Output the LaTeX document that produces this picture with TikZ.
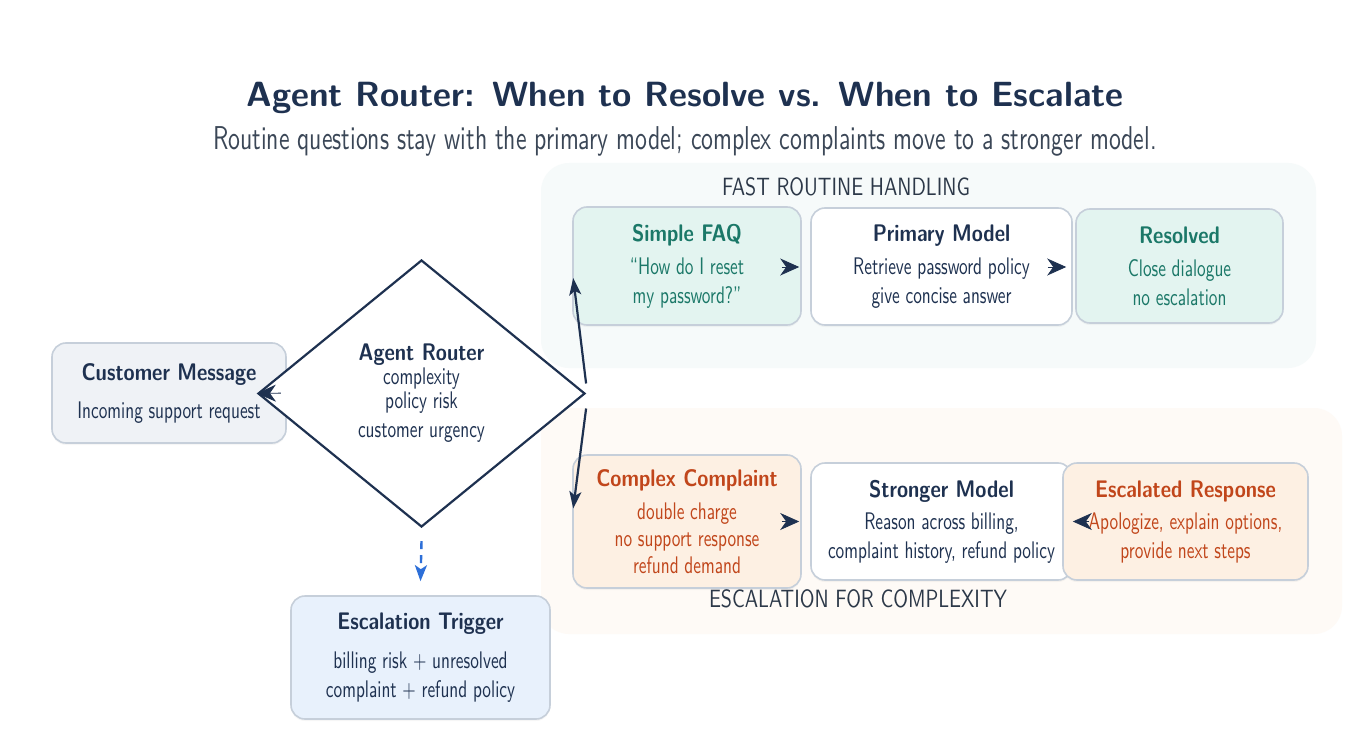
\documentclass[tikz,border=0pt]{standalone}
\usepackage{fontspec}
\setsansfont{lmsans10-regular.otf}[BoldFont=lmsans10-bold.otf]
\newfontfamily\condfont{lmsans10-regular.otf}[FakeStretch=0.72]
\newfontfamily\labfont{lmsans10-regular.otf}[FakeStretch=0.8]
\newfontfamily\demifont{lmsans10-bold.otf}[FakeStretch=0.84]
\newfontfamily\headfont{lmsans10-bold.otf}
\usetikzlibrary{shapes.geometric,arrows.meta,calc,shadows}
\definecolor{navy}{HTML}{1E3150}
\definecolor{subgray}{HTML}{3B4757}
\definecolor{labgray}{HTML}{2C3848}
\definecolor{bordercol}{HTML}{C6CFDA}
\definecolor{grayfill}{HTML}{EFF2F6}
\definecolor{tealfill}{HTML}{E3F4F0}
\definecolor{tealtext}{HTML}{1B7868}
\definecolor{orfill}{HTML}{FDF0E3}
\definecolor{ortext}{HTML}{C1461B}
\definecolor{bluefill}{HTML}{E8F1FC}
\definecolor{bluearrow}{HTML}{2D6FD8}
\definecolor{topreg}{HTML}{F6FAFA}
\definecolor{botreg}{HTML}{FEFAF6}
\newcommand{\bx}[1]{{\demifont\fontsize{24}{29}\selectfont #1}}
\tikzset{
  box/.style={draw=bordercol, line width=1.6pt, rounded corners=14pt, align=center,
    inner sep=0pt, text=navy, font=\condfont\fontsize{24}{29}\selectfont,
    drop shadow={opacity=0.07, shadow xshift=0pt, shadow yshift=-2pt}},
  headarr/.style={draw=navy, line width=0.8pt, -{Stealth[length=19pt,width=17pt,inset=6pt]}},
  linearr/.style={draw=navy, line width=2.2pt, -{Stealth[length=17pt,width=12pt,inset=4pt]}},
  dasharr/.style={draw=bluearrow, line width=2.4pt, dash pattern=on 8pt off 6pt,
    -{Stealth[length=16pt,width=12pt,inset=4pt]}},
  seclabel/.style={text=labgray, font=\labfont\fontsize{25}{29}\selectfont, anchor=base},
}
\begin{document}
\begin{tikzpicture}[x=1pt,y=-1pt]
\useasboundingbox (0,0) rectangle (1364,738);
\fill[white] (0,0) rectangle (1364,738);
% regions
\fill[topreg, rounded corners=28pt] (541,163) rectangle (1316,368);
\fill[botreg, rounded corners=28pt] (541,408) rectangle (1342,634);
% titles
\node[anchor=base, text=navy, font=\headfont\fontsize{35}{40}\selectfont] (title) at (685,107)
  {Agent Router: When to Resolve vs. When to Escalate};
\node[anchor=base, text=subgray, font=\condfont\fontsize{33}{38}\selectfont] (subtitle) at (685,150)
  {Routine questions stay with the primary model; complex complaints move to a stronger model.};
\node[seclabel] (fastlbl) at (846,195) {FAST ROUTINE HANDLING};
\node[seclabel] (esclbl) at (858,607) {ESCALATION FOR COMPLEXITY};
% left boxes
\node[box, fill=grayfill, minimum width=234pt, minimum height=100pt] (cust) at (169,393)
  {\bx{Customer Message}\\[9pt] Incoming support request};
\node[diamond, draw=navy, line width=2.2pt, fill=white, inner sep=0pt, aspect=1.22,
  minimum width=327pt, minimum height=267pt, align=center, text=navy,
  font=\condfont\fontsize{24}{24}\selectfont] (router) at (421.5,393.5)
  {\bx{Agent Router}\\ complexity\\ policy risk\\[5pt] customer urgency};
\node[box, fill=bluefill, minimum width=259pt, minimum height=123pt] (trig) at (420.5,657.5)
  {\bx{Escalation Trigger}\\[10pt] billing risk + unresolved\\ complaint + refund policy};
% top row
\node[box, fill=tealfill, text=tealtext, minimum width=228pt, minimum height=118pt] (faq) at (687,266)
  {\bx{Simple FAQ}\\[4pt] “How do I reset\\ my password?”};
\node[box, fill=white, minimum width=261pt, minimum height=117pt] (prim) at (941.5,266.5)
  {\bx{Primary Model}\\[4pt] Retrieve password policy\\ give concise answer};
\node[box, fill=tealfill, text=tealtext, minimum width=207pt, minimum height=114pt] (res) at (1179.5,266)
  {\bx{Resolved}\\[4pt] Close dialogue\\ no escalation};
% bottom row
\node[box, fill=orfill, text=ortext, minimum width=228pt, minimum height=133pt,
  font=\condfont\fontsize{24}{27}\selectfont] (comp) at (687,521.5)
  {\bx{Complex Complaint}\\[6pt] double charge\\ no support response\\ refund demand};
\node[box, fill=white, minimum width=261pt, minimum height=117pt] (strong) at (941.5,521.5)
  {\bx{Stronger Model}\\[3pt] Reason across billing,\\ complaint history, refund policy};
\node[box, fill=orfill, text=ortext, minimum width=245pt, minimum height=117pt] (esc) at (1185.5,521.5)
  {\bx{Escalated Response}\\[3pt] Apologize, explain options,\\ provide next steps};
% connectors
\draw[headarr, shorten <=6pt] (cust.east) -- (router.west);
\draw[linearr] ($(router.east)+(0,-10)$) -- ($(faq.west)+(1,12)$);
\draw[linearr] ($(router.east)+(0,15)$) -- ($(comp.west)+(1,-13)$);
\draw[dasharr] ($(router.south)+(0,13)$) -- ($(trig.north)+(0,-14)$);
\draw[headarr] ($(faq.east)+(-20,1)$) -- ($(prim.west)+(-11,0.5)$);
\draw[headarr] ($(prim.east)+(-25,0.5)$) -- ($(res.west)+(-9,1)$);
\draw[headarr] ($(comp.east)+(-20,0)$) -- ($(strong.west)+(-11,0)$);
\draw[headarr] ($(esc.west)+(27,0)$) -- (strong.east);
\end{tikzpicture}
\end{document}
